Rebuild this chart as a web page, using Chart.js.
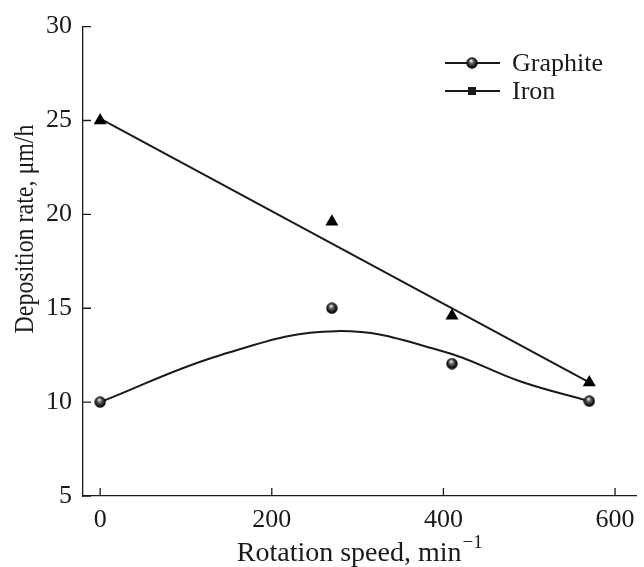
<!DOCTYPE html>
<html lang="en">
<head>
<meta charset="UTF-8">
<title>Deposition rate vs rotation speed</title>
<script src="https://cdn.jsdelivr.net/npm/chart.js"></script>
<style>
    body { margin: 0; background: #fff; }
    #wrap { width: 644px; height: 567px; }
</style>
</head>
<body>
<div id="wrap"><canvas id="depChart" width="644" height="567"></canvas></div>
<script>
// measured points
const speeds = [0, 270, 410, 570];
const graphiteRate = [10, 15, 12.05, 10.05];
const ironRate = [25, 19.6, 14.6, 11.05];

// fitted curves
const graphiteFitX = [0, 140, 275, 400, 490, 570];
const graphiteFitY = [10, 12.5, 13.78, 12.7, 11.1, 10.05];
const ironFitX = [0, 570];
const ironFitY = [25.1, 11.05];

const xTicks = [0, 200, 400, 600];
const yTicks = [5, 10, 15, 20, 25, 30];

const xTitle = 'Rotation speed, min';
const xTitleSup = '\u22121';
const yTitle = 'Deposition rate, \u03BCm/h';

const ink = '#1a1a1a';
const serif = "'Liberation Serif', 'Times New Roman', serif";

function pairs(xs, ys) {
    return xs.map((x, i) => ({ x: x, y: ys[i] }));
}

// shaded ball marker
function makeBall(d) {
    const c = document.createElement('canvas');
    c.width = c.height = d;
    const g = c.getContext('2d');
    const r = d / 2;
    const grad = g.createRadialGradient(r * 0.85, r * 0.6, 0.4, r, r, r);
    grad.addColorStop(0, '#f0f0f0');
    grad.addColorStop(0.3, '#6a6a6a');
    grad.addColorStop(0.75, '#111');
    grad.addColorStop(1, '#000');
    g.fillStyle = grad;
    g.beginPath();
    g.arc(r, r, r - 0.3, 0, Math.PI * 2);
    g.fill();
    return c;
}
const ball = makeBall(12);

// inward tick marks, axis titles and the legend
const extras = {
    id: 'extras',
    afterDraw(chart) {
        const { ctx, chartArea, scales: { x, y } } = chart;
        ctx.save();
        ctx.strokeStyle = ink;
        ctx.fillStyle = ink;
        ctx.lineWidth = 1.3;
        ctx.beginPath();
        xTicks.forEach(v => {
            const px = x.getPixelForValue(v);
            ctx.moveTo(px, chartArea.bottom);
            ctx.lineTo(px, chartArea.bottom - 8);
        });
        yTicks.forEach(v => {
            const py = y.getPixelForValue(v);
            ctx.moveTo(chartArea.left, py);
            ctx.lineTo(chartArea.left + 8, py);
        });
        ctx.stroke();

        // x title with a real superscript
        ctx.textBaseline = 'alphabetic';
        ctx.textAlign = 'left';
        ctx.font = '28px ' + serif;
        const w1 = ctx.measureText(xTitle).width;
        ctx.font = '19px ' + serif;
        const w2 = ctx.measureText(xTitleSup).width;
        const cx = (chartArea.left + chartArea.right) / 2;
        const x0 = cx - (w1 + w2 + 1) / 2;
        ctx.font = '28px ' + serif;
        ctx.fillText(xTitle, x0, 561);
        ctx.font = '19px ' + serif;
        ctx.fillText(xTitleSup, x0 + w1 + 1, 548);

        // y title, slightly condensed like the original
        ctx.save();
        ctx.translate(33, 229);
        ctx.rotate(-Math.PI / 2);
        ctx.scale(0.855, 1);
        ctx.font = '28px ' + serif;
        ctx.textAlign = 'center';
        ctx.fillText(yTitle, 0, 0);
        ctx.restore();

        // legend
        const rows = [
            { label: 'Graphite', y: 63, marker: 'ball' },
            { label: 'Iron', y: 91, marker: 'square' }
        ];
        ctx.lineWidth = 2;
        ctx.font = '26px ' + serif;
        ctx.textAlign = 'left';
        ctx.textBaseline = 'middle';
        rows.forEach(r => {
            ctx.beginPath();
            ctx.moveTo(445, r.y);
            ctx.lineTo(500, r.y);
            ctx.stroke();
            if (r.marker === 'ball') {
                ctx.drawImage(ball, 466, r.y - 6);
            } else {
                ctx.fillRect(468, r.y - 4, 8, 8);
            }
            ctx.fillText(r.label, 512, r.y + 1);
        });
        ctx.restore();
    }
};

new Chart(document.getElementById('depChart'), {
    type: 'scatter',
    data: {
        datasets: [
            {
                label: 'Graphite',
                data: pairs(speeds, graphiteRate),
                pointStyle: ball,
                pointRadius: 6,
                showLine: false
            },
            {
                label: 'Iron',
                data: pairs(speeds, ironRate),
                pointStyle: 'triangle',
                pointRadius: 7.5,
                backgroundColor: '#000',
                borderColor: '#000',
                borderWidth: 0,
                showLine: false
            },
            {
                label: 'Graphite fit',
                data: pairs(graphiteFitX, graphiteFitY),
                showLine: true,
                pointRadius: 0,
                borderColor: ink,
                borderWidth: 2,
                tension: 0.4
            },
            {
                label: 'Iron fit',
                data: pairs(ironFitX, ironFitY),
                showLine: true,
                pointRadius: 0,
                borderColor: ink,
                borderWidth: 2
            }
        ]
    },
    options: {
        responsive: false,
        animation: false,
        layout: { padding: { top: 25, right: 0, left: 0, bottom: 0 } },
        plugins: {
            legend: { display: false },
            tooltip: { enabled: false }
        },
        scales: {
            x: {
                type: 'linear',
                min: -20,
                max: 625,
                afterBuildTicks: s => { s.ticks = xTicks.map(v => ({ value: v })); },
                afterFit: s => { s.height = 71; },
                ticks: { font: { family: serif, size: 26 }, color: ink, padding: 9, maxRotation: 0 },
                grid: { display: false, drawTicks: false },
                border: { display: true, color: ink, width: 1.3 }
            },
            y: {
                min: 5,
                max: 30,
                afterBuildTicks: s => { s.ticks = yTicks.map(v => ({ value: v })); },
                afterFit: s => { s.width = 83; },
                ticks: { font: { family: serif, size: 26 }, color: ink, padding: 11 },
                grid: { display: false, drawTicks: false },
                border: { display: true, color: ink, width: 1.3 }
            }
        }
    },
    plugins: [extras]
});
</script>
</body>
</html>
